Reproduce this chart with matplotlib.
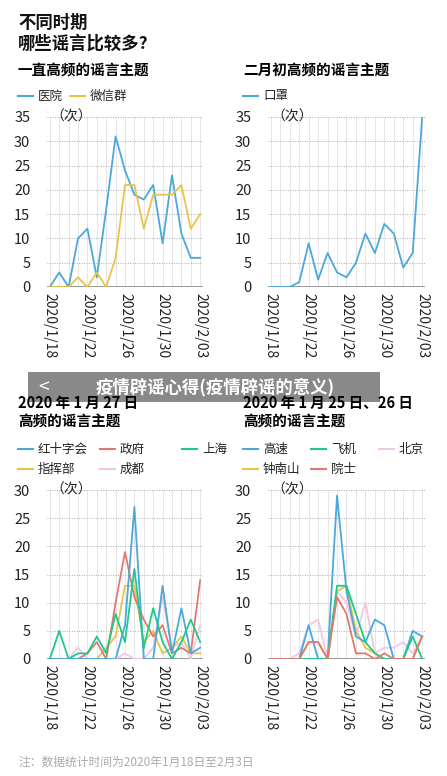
import matplotlib
matplotlib.use("Agg")
import matplotlib.pyplot as plt
from matplotlib.lines import Line2D
from matplotlib.patches import Rectangle

plt.rcParams['font.family'] = ['Noto Sans CJK SC', 'DejaVu Sans']

days = list(range(17))
tick_pos = [0, 4, 8, 12, 16]
tick_labels = ["2020/1/18", "2020/1/22", "2020/1/26", "2020/1/30", "2020/2/03"]

hospital = [0, 3, 0, 10, 12, 2, 16, 31, 24, 19, 18, 21, 9, 23, 11, 6, 6]
wechat = [0, 0, 0, 2, 0, 3, 0, 6, 21, 21, 12, 19, 19, 19, 21, 12, 15]
mask = [0, 0, 0, 1, 9, 1.5, 7, 3, 2, 5, 11, 7, 13, 11, 4, 7, 35]

redcross = [0, 0, 0, 0, 0, 0, 0, 0, 6, 27, 0, 0, 13, 1, 9, 1, 2]
gov = [0, 0, 0, 0, 1, 3, 0, 10, 19, 11, 7, 4, 6, 1, 2, 1, 14]
shanghai = [0, 5, 0, 1, 1, 4, 1, 8, 3, 16, 2, 9, 3, 0, 3, 7, 3]
command = [0, 0, 0, 0, 0, 0, 2, 4, 13, 13, 3, 5, 1, 2, 4, 1, 1]
chengdu = [0, 0, 0, 2, 0, 0, 0, 0, 1, 0, 0, 2, 11, 2, 3, 0, 6]

highway = [0, 0, 0, 0, 6, 0, 0, 29, 12, 4, 3, 7, 6, 0, 0, 5, 4]
plane = [0, 0, 0, 0, 0, 0, 0, 13, 13, 8, 3, 1, 0, 0, 0, 4, 0]
beijing = [0, 0, 0, 1, 6, 7, 0, 12, 10, 4, 10, 1, 2, 2, 3, 1, 4]
zhong = [0, 0, 0, 0, 3, 3, 0, 12, 13, 5, 2, 1, 0, 0, 0, 0, 4]
academician = [0, 0, 0, 0, 3, 3, 0, 11, 8, 1, 1, 0, 1, 0, 0, 0, 4]

BLUE = "#4aa8dc"; YEL = "#e8c44a"; RED = "#e07a70"; GRN = "#1ec98a"; PINK = "#f2c6e6"

fig = plt.figure(figsize=(4.47, 7.76), dpi=100)
W, H = 447, 776

def add_ax(x0, x1, ytop, ybot, ymax):
    ax = fig.add_axes([x0 / W, 1 - ybot / H, (x1 - x0) / W, (ybot - ytop) / H])
    ax.set_xlim(-0.3, 16.3)
    ax.set_ylim(0, ymax)
    ax.set_yticks(range(0, ymax + 1, 5))
    ax.set_xticks(tick_pos)
    ax.set_xticklabels(tick_labels, rotation=-90, fontsize=10, color="#222")
    ax.tick_params(axis='y', labelsize=10.5, colors="#222", length=0, pad=12)
    ax.tick_params(axis='x', length=0, pad=4)
    for d in days:
        ax.axvline(d, color="#e6e6e6", lw=0.7, zorder=0)
    for v in range(5, ymax + 1, 5):
        ax.axhline(v, color="#aaaaaa", lw=0.7, ls=(0, (1, 1.5)), zorder=0)
    ax.axhline(0, color="#888", lw=1.2, zorder=1)
    for s in ax.spines.values():
        s.set_visible(False)
    ax.text(0.06, ymax, "（次）", fontsize=10, va="center", ha="left", color="#222")
    return ax

fig.text(18 / W, 1 - 14 / H, "不同时期\n哪些谣言比较多?", fontsize=12.5, fontweight="bold",
         va="top", ha="left", linespacing=1.2, color="#111")

fig.text(18 / W, 1 - 71 / H, "一直高频的谣言主题", fontsize=10.5, fontweight="bold", va="center")
fig.text(243 / W, 1 - 71 / H, "二月初高频的谣言主题", fontsize=10.5, fontweight="bold", va="center")
fig.text(18 / W, 1 - 412 / H, "2020 年 1 月 27 日\n高频的谣言主题", fontsize=10.5, fontweight="bold",
         va="center", linespacing=1.2)
fig.text(243 / W, 1 - 412 / H, "2020 年 1 月 25 日、26 日\n高频的谣言主题", fontsize=10.5,
         fontweight="bold", va="center", linespacing=1.2)

def legend(items, x, y, ncol, colw):
    for i, (lab, c) in enumerate(items):
        xi = x + (i % ncol) * colw
        yi = y + (i // ncol) * 20
        fig.add_artist(Line2D([xi / W, (xi + 15) / W], [1 - yi / H, 1 - yi / H], color=c, lw=1.5))
        fig.text((xi + 20) / W, 1 - yi / H, lab, fontsize=9, va="center", color="#222")

ax1 = add_ax(47, 203, 117, 287, 35)
ax1.plot(days, hospital, color=BLUE, lw=1.3)
ax1.plot(days, wechat, color=YEL, lw=1.3)
legend([("医院", BLUE), ("微信群", YEL)], 18, 96, 2, 52)

ax2 = add_ax(268, 425, 117, 287, 35)
ax2.plot(days, mask, color=BLUE, lw=1.3)
legend([("口罩", BLUE)], 243, 96, 1, 60)

ax3 = add_ax(47, 203, 490, 659, 30)
for y, c in [(chengdu, PINK), (command, YEL), (gov, RED), (redcross, BLUE), (shanghai, GRN)]:
    ax3.plot(days, y, color=c, lw=1.3)
legend([("红十字会", BLUE), ("政府", RED), ("上海", GRN), ("指挥部", YEL), ("成都", PINK)],
       18, 449, 3, 82)

ax4 = add_ax(268, 425, 490, 659, 30)
for y, c in [(beijing, PINK), (zhong, YEL), (highway, BLUE), (plane, GRN), (academician, RED)]:
    ax4.plot(days, y, color=c, lw=1.3)
legend([("高速", BLUE), ("飞机", GRN), ("北京", PINK), ("钟南山", YEL), ("院士", RED)],
       243, 449, 3, 68)

fig.text(18 / W, 1 - 762 / H, "注：数据统计时间为2020年1月18日至2月3日", fontsize=8.5,
         color="#aaaaaa", va="center")

fig.add_artist(Rectangle((28 / W, 1 - 402 / H), 352 / W, 30 / H, transform=fig.transFigure,
                         fc="#7f7f7f", ec="none", alpha=0.92))
fig.text(215 / W, 1 - 387 / H, "疫情辟谣心得(疫情辟谣的意义)", fontsize=12.5, fontweight="bold",
         color="white", ha="center", va="center")
fig.text(44 / W, 1 - 387 / H, "<", fontsize=14, color="white", ha="center", va="center")

fig.savefig("out.png", dpi=100)
